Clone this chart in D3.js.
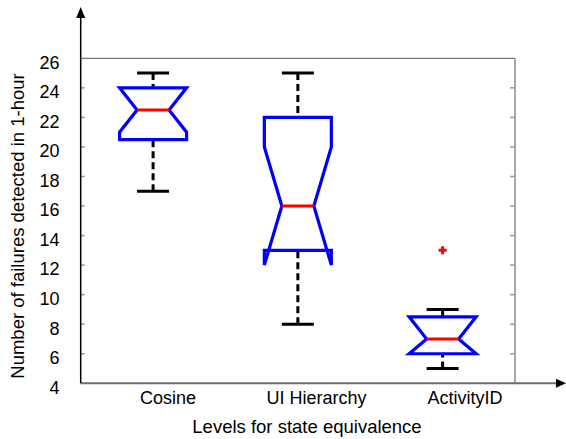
<!DOCTYPE html>
<html>
<head>
<meta charset="utf-8">
<script src="https://cdn.jsdelivr.net/npm/d3@7"></script>
<style>
  html, body { margin: 0; padding: 0; background: #fff; }
  svg { display: block; }
  text { font-family: Arial, "Liberation Sans", sans-serif; fill: #000; }
</style>
</head>
<body>
<svg id="chart" width="566" height="439"></svg>
<script>
// Notched box plot summaries per equivalence level
const categories   = ["Cosine", "UI Hierarchy", "ActivityID"];
const whiskerLow   = [17, 8, 5];
const quartile1    = [20.5, 13, 6];
const medians      = [22.5, 16, 7];
const quartile3    = [24, 22, 8.5];
const whiskerHigh  = [25, 25, 9];
const notchLow     = [21, 12, 6];
const notchHigh    = [24, 20, 8.5];
const outliers     = [[], [], [13]];
const yTickValues  = [4, 6, 8, 10, 12, 14, 16, 18, 20, 22, 24, 26];

const yTitle = "Number of failures detected in 1-hour";
const xTitle = "Levels for state equivalence";

const svg = d3.select("#chart");
const plotLeft = 80.7, plotRight = 515, plotTop = 58.3, plotBottom = 383.3;

const y = d3.scaleLinear().domain([4, 26]).range([plotBottom, plotTop]);
const x = d3.scaleBand().domain(categories).range([plotLeft, plotRight]).paddingInner(0.54).paddingOuter(0.27);
const xLabel = d3.scalePoint().domain(categories).range([168, 465]);

const boxHalf = 33.5, notchHalf = 16, capHalf = 16;

// Frame: top and right borders in grey
svg.append("line").attr("x1", plotLeft).attr("x2", plotRight).attr("y1", plotTop).attr("y2", plotTop)
  .attr("stroke", "#555").attr("stroke-width", 1);
svg.append("line").attr("x1", plotRight).attr("x2", plotRight).attr("y1", plotTop).attr("y2", plotBottom + 1)
  .attr("stroke", "#a8a8a8").attr("stroke-width", 2);

// Inward tick marks on left axis and right border
const inner = yTickValues.filter(v => v > 4 && v < 26);
svg.append("g").selectAll("line").data(inner).join("line")
  .attr("x1", plotLeft).attr("x2", plotLeft + 4).attr("y1", d => y(d)).attr("y2", d => y(d))
  .attr("stroke", "#999").attr("stroke-width", 1.5);
svg.append("g").selectAll("line").data(inner).join("line")
  .attr("x1", plotRight - 5).attr("x2", plotRight).attr("y1", d => y(d)).attr("y2", d => y(d))
  .attr("stroke", "#999").attr("stroke-width", 1.5);

// Bottom axis line with arrow
svg.append("line").attr("x1", plotLeft).attr("x2", 558).attr("y1", plotBottom).attr("y2", plotBottom)
  .attr("stroke", "#6e6e6e").attr("stroke-width", 2);
svg.append("path").attr("d", `M566,${plotBottom} L556,${plotBottom - 4.5} L556,${plotBottom + 4.5} Z`).attr("fill", "#000");

// Left axis line with arrow
svg.append("line").attr("x1", plotLeft).attr("x2", plotLeft).attr("y1", 16).attr("y2", plotBottom)
  .attr("stroke", "#000").attr("stroke-width", 1.5);
svg.append("path").attr("d", `M${plotLeft},7 L${plotLeft - 4.5},18 L${plotLeft + 4.5},18 Z`).attr("fill", "#000");

// Y tick labels
svg.append("g").selectAll("text").data(yTickValues).join("text")
  .attr("x", 59.5).attr("y", d => y(d) + 4).attr("dy", "0.35em")
  .attr("text-anchor", "end").attr("font-size", 18).text(d => d);

// Category labels
svg.append("g").selectAll("text").data(categories).join("text")
  .attr("x", d => xLabel(d)).attr("y", 398).attr("dy", "0.35em")
  .attr("text-anchor", "middle").attr("font-size", 18).text(d => d);

// Axis titles
svg.append("text").attr("x", 307).attr("y", 427).attr("dy", "0.35em")
  .attr("text-anchor", "middle").attr("font-size", 18.5).text(xTitle);
svg.append("text").attr("transform", "translate(18,226) rotate(-90)").attr("dy", "0.35em")
  .attr("text-anchor", "middle").attr("font-size", 18.5).text(yTitle);

// Boxes
const rows = categories.map((c, i) => ({
  c, lo: whiskerLow[i], q1: quartile1[i], med: medians[i], q3: quartile3[i],
  hi: whiskerHigh[i], nlo: notchLow[i], nhi: notchHigh[i], out: outliers[i]
}));

const g = svg.append("g").selectAll("g").data(rows).join("g");
const cx = d => x(d.c) + x.bandwidth() / 2;

// Whiskers (dashed)
g.append("line").attr("x1", cx).attr("x2", cx)
  .attr("y1", d => y(d.lo)).attr("y2", d => y(d.q1))
  .attr("stroke", "#000").attr("stroke-width", 3).attr("stroke-dasharray", "7,4");
g.append("line").attr("x1", cx).attr("x2", cx)
  .attr("y1", d => y(d.hi)).attr("y2", d => y(d.q3))
  .attr("stroke", "#000").attr("stroke-width", 3).attr("stroke-dasharray", "7,4");

// Whisker caps
["lo", "hi"].forEach(k => {
  g.append("line").attr("x1", d => cx(d) - capHalf).attr("x2", d => cx(d) + capHalf)
    .attr("y1", d => y(d[k])).attr("y2", d => y(d[k]))
    .attr("stroke", "#000").attr("stroke-width", 3);
});

// Notched box outline
g.append("path")
  .attr("d", d => {
    const c = cx(d), L = c - boxHalf, R = c + boxHalf;
    const pts = [
      [L, y(d.q1)], [L, y(d.nlo)], [c - notchHalf, y(d.med)], [L, y(d.nhi)], [L, y(d.q3)],
      [R, y(d.q3)], [R, y(d.nhi)], [c + notchHalf, y(d.med)], [R, y(d.nlo)], [R, y(d.q1)]
    ];
    return d3.line()(pts) + "Z";
  })
  .attr("fill", "none").attr("stroke", "#0000ff").attr("stroke-width", 3.2)
  .attr("stroke-linejoin", "miter");

// Median
g.append("line").attr("x1", d => cx(d) - notchHalf).attr("x2", d => cx(d) + notchHalf)
  .attr("y1", d => y(d.med)).attr("y2", d => y(d.med))
  .attr("stroke", "#ff0000").attr("stroke-width", 3);

// Outliers
g.each(function(d) {
  d3.select(this).selectAll("path.out").data(d.out).join("path").attr("class", "out")
    .attr("d", v => `M${cx(d) - 4},${y(v)} h8 M${cx(d)},${y(v) - 4} v8`)
    .attr("stroke", "#ff0000").attr("stroke-width", 3);
});
</script>
</body>
</html>
